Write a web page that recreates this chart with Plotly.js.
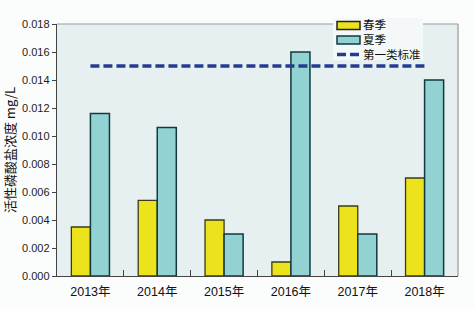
<!DOCTYPE html>
<html><head><meta charset="utf-8">
<script src="https://cdn.plot.ly/plotly-3.0.1.min.js"></script>
<style>html,body{margin:0;padding:0;background:#fbfcfc;}#c{width:475px;height:309px;}</style>
</head><body><div id="c"></div>
<script>
const years = ['2013年','2014年','2015年','2016年','2017年','2018年'];
const spring = [0.0035, 0.0054, 0.0040, 0.0010, 0.0050, 0.0070];
const summer = [0.0116, 0.0106, 0.0030, 0.0160, 0.0030, 0.0140];
const standard = [0.015, 0.015, 0.015, 0.015, 0.015, 0.015];
const seriesNames = ['春季','夏季','第一类标准'];
const yTicks = [0,0.002,0.004,0.006,0.008,0.010,0.012,0.014,0.016,0.018];

const W = 475, H = 309, M = {l:57, r:17, t:24, b:33};
const PW = W - M.l - M.r, PH = H - M.t - M.b;
const px = x => (x - M.l) / PW;       // pixel -> paper x
const py = y => (H - M.b - y) / PH;   // pixel -> paper y

const YEL = '#ece31c', TEAL = '#93d2d2', NAVY = '#233c92';
const FONT = 'Liberation Sans, Arial, Noto Sans CJK SC, sans-serif';
const traces = [
  {type:'bar', name:seriesNames[0], x:years, y:spring, showlegend:false,
   marker:{color:YEL, line:{color:'#3a3a1a', width:1.3}}},
  {type:'bar', name:seriesNames[1], x:years, y:summer, showlegend:false,
   marker:{color:TEAL, line:{color:'#123a3e', width:1.5}}},
  {type:'scatter', mode:'lines', name:seriesNames[2], x:years, y:standard, showlegend:false,
   line:{color:NAVY, width:3.4, dash:'9px,4px'}}
];

// legend (layout decoration, built from trace styles)
const legX = 337, legTxtX = 362, rows = [25.5, 40, 54.5];
const shapes = [
  {type:'line', xref:'paper', yref:'paper', x0:0, x1:1, y0:1, y1:1, line:{color:'#999', width:1.2}, layer:'below'},
  {type:'line', xref:'paper', yref:'paper', x0:1, x1:1, y0:0, y1:1, line:{color:'#aaa', width:1.5}, layer:'below'},
  {type:'rect', xref:'paper', yref:'paper', x0:px(333), x1:px(423), y0:py(60), y1:py(18),
   fillcolor:'#f4f8f8', line:{width:0}},
  {type:'rect', xref:'paper', yref:'paper', x0:px(legX), x1:px(legX+23), y0:py(rows[0]+4), y1:py(rows[0]-4),
   fillcolor:YEL, line:{color:'#222', width:1.5}},
  {type:'rect', xref:'paper', yref:'paper', x0:px(legX), x1:px(legX+23), y0:py(rows[1]+4), y1:py(rows[1]-4),
   fillcolor:TEAL, line:{color:'#123a3e', width:1.5}},
  {type:'line', xref:'paper', yref:'paper', x0:px(legX), x1:px(legX+23), y0:py(rows[2]), y1:py(rows[2]),
   line:{color:NAVY, width:3.4, dash:'9px,4px'}}
];
const annotations = seriesNames.map((n,i) => ({
  xref:'paper', yref:'paper', x:px(legTxtX), y:py(rows[i]), xanchor:'left', yanchor:'middle',
  text:n, showarrow:false, borderpad:0,
  font:{size:11.5, family:'Liberation Sans, Noto Sans CJK SC, sans-serif', color:'#111'}
}));

const layout = {
  width:W, height:H, margin:M,
  paper_bgcolor:'#fbfcfc', plot_bgcolor:'#e6f0f1',
  font:{family:FONT, size:11, color:'#222'},
  barmode:'group', bargap:0.43, bargroupgap:0,
  showlegend:false,
  xaxis:{showline:true, linecolor:'#444', linewidth:1.2, ticks:'inside', ticklen:6,
         tickcolor:'#444', tickson:'boundaries', showgrid:false, ticklabelstandoff:4,
         tickfont:{size:12.5, family:'Liberation Sans, Noto Sans CJK SC, sans-serif', color:'#111'},
         range:[-0.5,5.5]},
  yaxis:{range:[0,0.018], tickvals:yTicks, ticktext:yTicks.map(v=>v.toFixed(3)),
         showline:true, linecolor:'#444', linewidth:1.2, ticks:'outside', ticklen:4,
         tickcolor:'#444', showgrid:false, zeroline:false,
         tickfont:{size:11, color:'#222'},
         title:{text:'活性磷酸盐浓度 mg/L', font:{size:13, family:'Noto Sans CJK SC, sans-serif', color:'#111'}, standoff:6}},
  shapes, annotations
};
Plotly.newPlot('c', traces, layout, {staticPlot:true, displayModeBar:false});
</script></body></html>
